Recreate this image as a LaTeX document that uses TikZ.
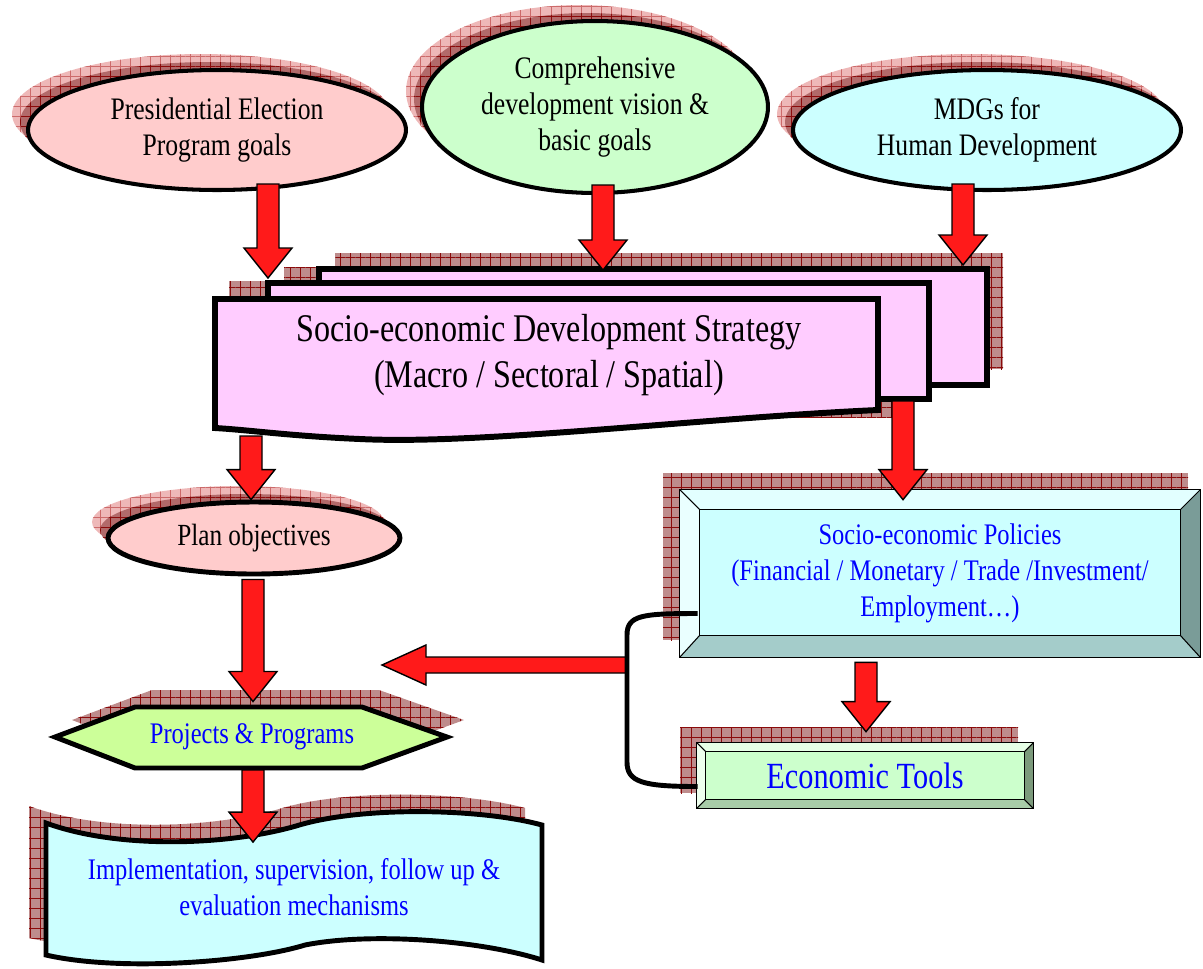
\documentclass[tikz,border=0pt]{standalone}
\usepackage{fontspec}
\setmainfont{Liberation Serif}[FakeStretch=0.82]
\usetikzlibrary{shapes.geometric,calc,patterns.meta}

\definecolor{arrowred}{HTML}{FF1A1A}
\definecolor{pinkfill}{HTML}{FFCCCC}
\definecolor{greenfill}{HTML}{CCFFCC}
\definecolor{cyanfill}{HTML}{CCFFFF}
\definecolor{violetfill}{HTML}{FFCCFF}
\definecolor{limefill}{HTML}{CCFF99}
\definecolor{shadowbase}{HTML}{BE8C8C}
\definecolor{gridred}{HTML}{8B0A0A}
\definecolor{shadowpale}{HTML}{EEB8B8}
\definecolor{gridpale}{HTML}{CC6A6A}
\definecolor{shadowdark}{HTML}{B26A6A}
\definecolor{txtblue}{HTML}{0000FF}
\definecolor{cyantop}{HTML}{E2FFFF}
\definecolor{cyanleft}{HTML}{EAFFFF}
\definecolor{cyanright}{HTML}{7A9C98}
\definecolor{cyanbottom}{HTML}{A4CCCA}
\definecolor{greentop}{HTML}{E6FFE6}
\definecolor{greenleft}{HTML}{EEFFEE}
\definecolor{greenright}{HTML}{7C9A7C}
\definecolor{greenbottom}{HTML}{A8CCA8}

\newcommand{\downblk}[2]{\draw[blk] ($(#1)+(-11,0)$) -- ($(#1)+(11,0)$) -- ($(#1|-#2)+(11,-30)$) -- ($(#1|-#2)+(24,-30)$) -- (#1|-#2) -- ($(#1|-#2)+(-24,-30)$) -- ($(#1|-#2)+(-11,-30)$) -- cycle;}
\newcommand{\leftblk}[2]{\draw[blk] ($(#1)+(0,-8)$) -- ($(#1)+(0,8)$) -- ($(#2|-#1)+(44,8)$) -- ($(#2|-#1)+(44,20)$) -- (#2|-#1) -- ($(#2|-#1)+(44,-20)$) -- ($(#2|-#1)+(44,-8)$) -- cycle;}

\begin{document}
\begin{tikzpicture}[x=0.02cm,y=-0.02cm]
\tikzstyle{every node}+=[inner sep=0pt, align=center]
\tikzstyle{blk}=[fill=arrowred, draw=black, line width=0.8pt, line join=miter]
\tikzstyle{goal}=[ellipse, draw=black, line width=2.3pt, font=\fontsize{17.8pt}{20.5pt}\selectfont]
\tikzstyle{bshadow}=[fill=shadowbase, postaction={pattern={Hatch[angle=0,distance=5.7pt,line width=0.35pt]}, pattern color=gridred}]
\tikzstyle{paleshadow}=[fill=shadowpale, postaction={pattern={Hatch[angle=0,distance=5.7pt,line width=0.35pt]}, pattern color=gridpale}]
\tikzstyle{darkshadow}=[fill=shadowdark, postaction={pattern={Hatch[angle=0,distance=5.7pt,line width=0.35pt]}, pattern color=gridred}]
\tikzstyle{stratbox}=[fill=violetfill, draw=black, line width=3.4pt, line join=miter]
\tikzstyle{bluetxt}=[text=txtblue, font=\fontsize{17pt}{20.4pt}\selectfont]
\tikzstyle{bevel}=[draw=black, line width=0.6pt]
\tikzstyle{link}=[draw=black, line width=2.8pt]

\useasboundingbox (0,0) rectangle (1203,968);

\coordinate (c1) at (217,130);
\coordinate (c2) at (595,107);
\coordinate (c3) at (987,130);
\coordinate (c4) at (254,538);

% shadows
\fill[paleshadow] ($(c1)+(-16,-16)$) ellipse [x radius=3.78cm, y radius=1.2cm];
\fill[darkshadow] ($(c1)+(-8,-8)$) ellipse [x radius=3.78cm, y radius=1.2cm];
\fill[paleshadow] ($(c2)+(-16,-16)$) ellipse [x radius=3.46cm, y radius=1.72cm];
\fill[darkshadow] ($(c2)+(-8,-8)$) ellipse [x radius=3.46cm, y radius=1.72cm];
\fill[paleshadow] ($(c3)+(-16,-16)$) ellipse [x radius=3.88cm, y radius=1.2cm];
\fill[darkshadow] ($(c3)+(-8,-8)$) ellipse [x radius=3.88cm, y radius=1.2cm];
\fill[paleshadow] ($(c4)+(-16,-16)$) ellipse [x radius=2.92cm, y radius=0.72cm];
\fill[darkshadow] ($(c4)+(-8,-8)$) ellipse [x radius=2.92cm, y radius=0.72cm];
\fill[bshadow] (335,253) rectangle (1003,369);
\fill[bshadow] (284,267) rectangle (945,383);
\fill[bshadow] (229,281) rectangle (896,417);
\fill[bshadow] (72,720) -- (152,690) -- (379,690) -- (464,720) -- (379,751) -- (152,751) -- cycle;
\fill[bshadow, shift={(-17,-17)}] (46,823) .. controls (120,850) and (230,845) .. (296,826) .. controls (360,806) and (480,808) .. (542,825) -- (542,960) .. controls (480,940) and (370,932) .. (305,945) .. controls (250,962) and (120,972) .. (46,955) -- cycle;
\fill[bshadow] (663,473) rectangle (1188,640);
\fill[bshadow] (680,727) rectangle (1018,793);

% goals
\node[goal, fill=pinkfill, minimum width=7.56cm, minimum height=2.4cm] (pres) at (c1) {Presidential Election\\Program goals};
\node[goal, fill=greenfill, minimum width=6.92cm, minimum height=3.44cm] (vision) at (c2) {Comprehensive\\development vision \&\\basic goals};
\node[goal, fill=cyanfill, minimum width=7.76cm, minimum height=2.4cm] (mdg) at (c3) {MDGs for\\Human Development};

% strategy
\draw[stratbox] (319,269) rectangle (987,385);
\draw[stratbox] (268,283) rectangle (929,399);
\draw[stratbox] (215,299) -- (878,299) -- (878,410) .. controls (700,418) and (480,445) .. (360,439) .. controls (290,436) and (250,430) .. (215,428) -- cycle;
\node[font=\fontsize{22.3pt}{26pt}\selectfont] (strat) at (549,355) {Socio-economic Development Strategy\\(Macro / Sectoral / Spatial)};

% plan side
\node[goal, fill=pinkfill, line width=2.8pt, minimum width=5.84cm, minimum height=1.44cm, font=\fontsize{17.5pt}{20pt}\selectfont] (plan) at (c4) {Plan objectives};
\draw[fill=limefill, draw=black, line width=2.8pt, line join=miter] (55,737) -- (135,707) -- (362,707) -- (447,737) -- (362,768) -- (135,768) -- cycle;
\node[bluetxt] (proj) at (252,737) {Projects \& Programs};
\draw[fill=cyanfill, draw=black, line width=2.8pt] (46,823) .. controls (120,850) and (230,845) .. (296,826) .. controls (360,806) and (480,808) .. (542,825) -- (542,960) .. controls (480,940) and (370,932) .. (305,945) .. controls (250,962) and (120,972) .. (46,955) -- cycle;
\node[bluetxt] (impl) at (294,887) {Implementation, supervision, follow up \&\\evaluation mechanisms};

% policies
\node[bluetxt, fill=cyanfill, minimum width=10.4cm, minimum height=3.34cm] (pol) at (940,573.5) {Socio-economic Policies\\(Financial / Monetary / Trade /Investment/\\Employment\dots)};
\fill[cyantop] (pol.north west) -- (pol.north east) -- ($(pol.north east)+(-20,20)$) -- ($(pol.north west)+(20,20)$) -- cycle;
\fill[cyanleft] (pol.north west) -- ($(pol.north west)+(20,20)$) -- ($(pol.south west)+(20,-22)$) -- (pol.south west) -- cycle;
\fill[cyanright] (pol.north east) -- (pol.south east) -- ($(pol.south east)+(-20,-22)$) -- ($(pol.north east)+(-20,20)$) -- cycle;
\fill[cyanbottom] (pol.south west) -- (pol.south east) -- ($(pol.south east)+(-20,-22)$) -- ($(pol.south west)+(20,-22)$) -- cycle;
\draw[bevel] (pol.north west) rectangle (pol.south east);
\draw[bevel] ($(pol.north west)+(20,20)$) rectangle ($(pol.south east)+(-20,-22)$);
\draw[bevel] (pol.north west) -- +(20,20) (pol.north east) -- +(-20,20) (pol.south west) -- +(20,-22) (pol.south east) -- +(-20,-22);

% tools
\node[text=txtblue, font=\fontsize{21pt}{24pt}\selectfont, fill=greenfill, minimum width=6.72cm, minimum height=1.3cm] (eco) at (865,775.5) {Economic Tools};
\fill[greentop] (eco.north west) -- (eco.north east) -- ($(eco.north east)+(-9,9)$) -- ($(eco.north west)+(9,9)$) -- cycle;
\fill[greenleft] (eco.north west) -- ($(eco.north west)+(9,9)$) -- ($(eco.south west)+(9,-9)$) -- (eco.south west) -- cycle;
\fill[greenright] (eco.north east) -- (eco.south east) -- ($(eco.south east)+(-9,-9)$) -- ($(eco.north east)+(-9,9)$) -- cycle;
\fill[greenbottom] (eco.south west) -- (eco.south east) -- ($(eco.south east)+(-9,-9)$) -- ($(eco.south west)+(9,-9)$) -- cycle;
\draw[bevel] (eco.north west) rectangle (eco.south east);
\draw[bevel] ($(eco.north west)+(9,9)$) rectangle ($(eco.south east)+(-9,-9)$);
\draw[bevel] (eco.north west) -- +(9,9) (eco.north east) -- +(-9,9) (eco.south west) -- +(9,-9) (eco.south east) -- +(-9,-9);

% arrows
\coordinate (a1) at ($(pres.south)+(51,-8)$);
\coordinate (t1) at (268,278);
\coordinate (a2) at ($(vision.south)+(8,-10)$);
\coordinate (t2) at (603,270);
\coordinate (a3) at ($(mdg.south)+(-24,-8)$);
\coordinate (t3) at (963,265);
\coordinate (a4) at (251,436);
\coordinate (a5) at ($(plan.south)+(-1,3)$);
\coordinate (t5) at ($(proj.north)+(0,-22)$);
\coordinate (a6) at (253,770);
\coordinate (t6) at ($(impl.north)+(0,-16)$);
\coordinate (a7) at (903,401);
\coordinate (t7) at ($(pol.north)+(0,10)$);
\coordinate (a8) at ($(pol.south)+(-74,5)$);
\coordinate (t8) at ($(eco.north)+(0,-11)$);
\coordinate (jn) at (627,665);
\coordinate (lt) at (382,665);
\downblk{a1}{t1}
\downblk{a2}{t2}
\downblk{a3}{t3}
\downblk{a4}{plan.north}
\downblk{a5}{t5}
\downblk{a6}{t6}
\downblk{a7}{t7}
\downblk{a8}{t8}
\leftblk{jn}{lt}
\draw[link] ($(pol.west)+(18,40)$) .. controls +(-55,0) and +(0,-20) .. ($(jn)+(0,-30)$) -- ($(jn)+(0,97)$) .. controls +(0,20) and +(-55,0) .. ($(eco.west)+(1,11)$);
\end{tikzpicture}
\end{document}
